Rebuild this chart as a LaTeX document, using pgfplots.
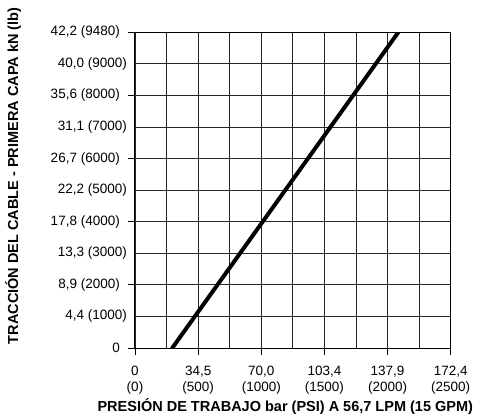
\documentclass[border=0pt]{standalone}
\usepackage{fontspec}
\setmainfont{Liberation Sans}
\usepackage{pgfplots}
\pgfplotsset{compat=1.18}
\usetikzlibrary{calc}
\begin{document}
\begin{tikzpicture}
\begin{axis}[
  name=ax,
  scale only axis, width=315.7bp, height=315.7bp,
  xmin=0, xmax=2500, ymin=0, ymax=10,
  xtick={0,500,...,2500},
  xticklabels={{0\\(0)},{34,5\\(500)},{70,0\\(1000)},{103,4\\(1500)},{137,9\\(2000)},{172,4\\(2500)}},
  minor x tick num=1,
  ytick={0,2,...,10},
  yticklabels={{0},{8,9 (2000)},{17,8 (4000)},{26,7 (6000)},{35,6 (8000)},{42,2 (9480)}},
  extra y ticks={1,3,5,7,9},
  extra y tick labels={{4,4 (1000)},{13,3 (3000)},{22,2 (5000)},{31,1 (7000)},{40,0 (9000)}},
  extra y tick style={major tick length=0pt, grid=major},
  grid=both,
  major grid style={black!85, line width=0.8bp},
  minor grid style={black!85, line width=0.8bp},
  tick align=outside, major tick length=7bp, minor tick length=0pt,
  tick style={black, line width=0.9bp},
  xtick pos=bottom, ytick pos=left,
  axis line style={black, line width=1bp},
  xticklabel style={align=center, inner sep=0pt, anchor=north, yshift=-10.7bp,
    font=\fontsize{13.5bp}{16.5bp}\selectfont},
  yticklabel style={inner sep=0pt, anchor=east, xshift=-8bp,
    font=\fontsize{13.5bp}{16.5bp}\selectfont},
  xlabel={PRESIÓN DE TRABAJO bar (PSI) A 56,7 LPM (15 GPM)},
  ylabel={TRACCIÓN DEL CABLE - PRIMERA CAPA kN (lb)},
  xlabel style={at={(axis description cs:0.476,-0.187)}, anchor=center,
    font=\bfseries\fontsize{14.5bp}{17bp}\selectfont},
  ylabel style={at={(axis description cs:-0.386,0.545)}, anchor=center,
    font=\bfseries\fontsize{14.5bp}{17bp}\selectfont},
]
\addplot[black, line width=4bp, line cap=round] coordinates {(295,0) (2085,10)};
\end{axis}
\pgfresetboundingbox
\path[use as bounding box] ($(ax.south west)+(-135bp,-71bp)$) rectangle ($(ax.north east)+(26.3bp,32.3bp)$);
\end{tikzpicture}
\end{document}
